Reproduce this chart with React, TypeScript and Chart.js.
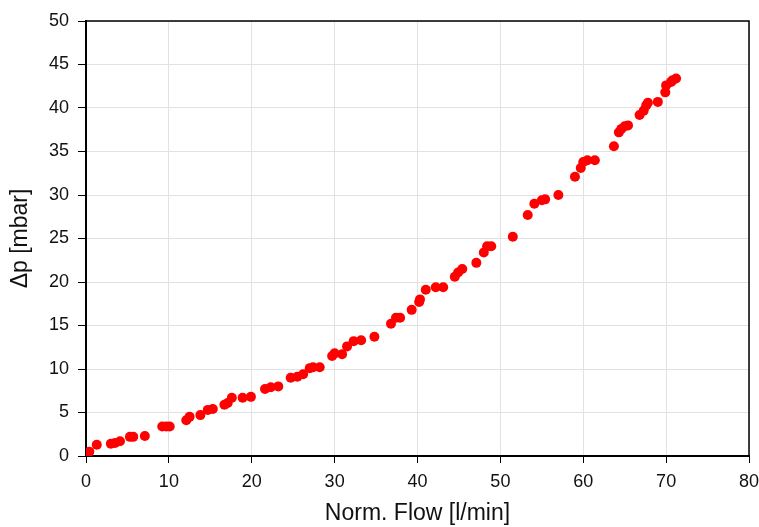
import React, { useEffect, useRef } from "react";
import { Chart, registerables } from "chart.js";

Chart.register(...registerables);

const flowValues: number[] = [
  0.4, 1.3, 3.0, 3.5, 4.1, 5.3, 5.7, 7.1, 9.2, 9.7, 10.1, 12.1, 12.5, 13.8, 14.7, 15.3,
  16.7, 17.1, 17.6, 18.9, 19.9, 21.6, 22.3, 23.2, 24.7, 25.5, 26.2, 27.0, 27.4, 28.2,
  29.7, 30.0, 30.9, 31.5, 32.3, 33.2, 34.8, 36.8, 37.4, 37.9, 39.3, 40.2, 40.3, 41.0,
  42.2, 43.1, 44.5, 44.9, 45.4, 47.1, 48.0, 48.4, 48.9, 51.5, 53.3, 54.1, 55.0, 55.4,
  57.0, 59.0, 59.7, 60.0, 60.5, 61.4, 63.7, 64.3, 64.6, 65.0, 65.4, 66.8, 67.3, 67.6,
  67.8, 69.0, 69.9, 70.0, 70.6, 70.8, 71.2,
];
const dpValues: number[] = [
  0.5, 1.3, 1.4, 1.5, 1.7, 2.2, 2.2, 2.3, 3.4, 3.4, 3.4, 4.1, 4.5, 4.7, 5.3, 5.4,
  5.9, 6.1, 6.7, 6.7, 6.8, 7.7, 7.9, 8.0, 9.0, 9.1, 9.4, 10.1, 10.2, 10.2,
  11.5, 11.8, 11.7, 12.6, 13.2, 13.3, 13.7, 15.2, 15.9, 15.9, 16.8, 17.7, 18.0, 19.1,
  19.4, 19.4, 20.6, 21.1, 21.5, 22.2, 23.4, 24.1, 24.1, 25.2, 27.7, 29.0, 29.4, 29.5,
  30.0, 32.1, 33.1, 33.8, 34.0, 34.0, 35.6, 37.2, 37.6, 37.9, 38.0, 39.2, 39.7, 40.3,
  40.6, 40.7, 41.8, 42.6, 43.0, 43.2, 43.4,
];

const xTitle = "Norm. Flow [l/min]";
const yTitle = "\u0394p [mbar]";

const frame = {
  id: "frame",
  afterDraw(chart: any) {
    const { ctx, chartArea } = chart;
    ctx.save();
    ctx.strokeStyle = "#000";
    ctx.lineWidth = 1.5;
    ctx.beginPath();
    ctx.moveTo(chartArea.left, chartArea.top);
    ctx.lineTo(chartArea.right, chartArea.top);
    ctx.lineTo(chartArea.right, chartArea.bottom);
    ctx.stroke();
    ctx.restore();
  },
};

export default function App() {
  const ref = useRef<HTMLCanvasElement>(null);
  useEffect(() => {
    if (!ref.current) return;
    const data = flowValues.map((x, i) => ({ x, y: dpValues[i] }));
    const font = "'Liberation Sans', Arial, sans-serif";
    const chart = new Chart(ref.current, {
      type: "scatter",
      data: {
        datasets: [
          {
            data,
            backgroundColor: "#ff0000",
            borderColor: "#ff0000",
            pointRadius: 5,
            pointHoverRadius: 5,
            borderWidth: 0,
          },
        ],
      },
      options: {
        animation: false,
        responsive: false,
        layout: { padding: { top: 21, right: 0, left: 0, bottom: 0 } },
        plugins: { legend: { display: false }, tooltip: { enabled: false } },
        scales: {
          x: {
            type: "linear",
            min: 0,
            max: 80,
            ticks: { stepSize: 10, color: "#111", font: { family: font, size: 18 }, padding: 8 },
            grid: { color: "#e2e2e2", tickColor: "#000", tickLength: 7, lineWidth: 1 },
            border: { color: "#000", width: 2 },
            title: { display: true, text: xTitle, color: "#111", font: { family: font, size: 23 }, padding: { top: 0, bottom: 0 } },
            afterFit: (s: any) => { s.height = 71; s.paddingRight = 10; s.paddingLeft = 0; },
          },
          y: {
            min: 0,
            max: 50,
            ticks: { stepSize: 5, color: "#111", font: { family: font, size: 18 }, padding: 9 },
            grid: { color: "#e2e2e2", tickColor: "#000", tickLength: 8, lineWidth: 1 },
            border: { color: "#000", width: 2 },
            title: { display: true, text: yTitle, color: "#111", font: { family: font, size: 23 }, padding: { top: 7, bottom: 0 } },
            afterFit: (s: any) => { s.width = 86; s.paddingTop = 0; s.paddingBottom = 0; },
          },
        },
      },
      plugins: [frame],
    });
    return () => chart.destroy();
  }, []);
  return (
    <div style={{ position: "absolute", left: 0, top: 0, width: 759, height: 527, background: "#fff" }}>
      <canvas ref={ref} width={759} height={527} />
    </div>
  );
}
